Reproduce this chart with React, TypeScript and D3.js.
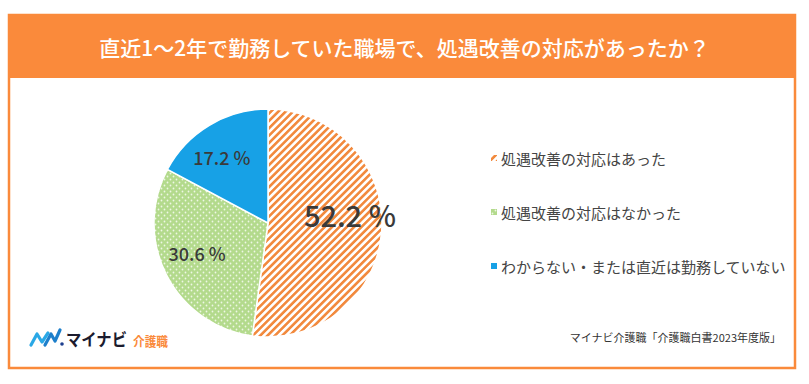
import * as d3 from 'd3';

const title = '直近1～2年で勤務していた職場で、処遇改善の対応があったか？';
const categories = ['処遇改善の対応はあった', '処遇改善の対応はなかった', 'わからない・または直近は勤務していない'];
const values = [52.2, 30.6, 17.2];
const fills = ['url(#stripes)', 'url(#dots)', '#17a1e6'];
const source = 'マイナビ介護職「介護職白書2023年度版」';

const W = 809, H = 384;
const ORANGE = '#fa8a3b';
const FONT = '"Noto Sans CJK JP", "Noto Sans", sans-serif';

export default function App() {
  const cx = 268, cy = 223, r = 114;

  const pie = d3.pie<number>().sort(null).value(d => d);
  const arcs = pie(values);
  const arc = d3.arc<d3.PieArcDatum<number>>().innerRadius(0).outerRadius(r);

  // label placement (radius factor, font size, nudges) per slice
  const labelStyle = [
    { k: 0.72, size: 29, dx: 0, dy: -15 },
    { k: 0.58, size: 18, dx: -12, dy: 0 },
    { k: 0.6, size: 18, dx: -11, dy: -7 },
  ];

  const legendY = d3.scalePoint<string>().domain(categories).range([158, 266]);

  return (
    <svg width={W} height={H} style={{ position: 'absolute', left: 0, top: 0, background: '#fff' }} fontFamily={FONT}>
      <defs>
        <pattern id="stripes" patternUnits="userSpaceOnUse" width={5.2} height={5.2} patternTransform="rotate(45)">
          <rect width={5.2} height={5.2} fill="#fff" />
          <rect width={2.6} height={5.2} fill="#f28a3e" />
        </pattern>
        <pattern id="dots" patternUnits="userSpaceOnUse" width={6} height={6}>
          <rect width={6} height={6} fill="#b3da8c" />
          <circle cx={1.5} cy={1.5} r={0.9} fill="#eef7e4" />
          <circle cx={4.5} cy={4.5} r={0.9} fill="#eef7e4" />
        </pattern>
      </defs>

      {/* frame */}
      <rect x={9} y={15} width={786} height={353} fill="#fff" stroke={ORANGE} strokeWidth={2.5} />
      <rect x={8} y={14} width={788} height={64} fill={ORANGE} />
      <text x={W / 2} y={47} textAnchor="middle" dominantBaseline="central" fill="#fff" fontSize={21} fontWeight={500}>
        {title}
      </text>

      {/* pie */}
      <g transform={`translate(${cx},${cy})`}>
        {arcs.map((a, i) => (
          <path key={i} d={arc(a) || ''} fill={fills[i]} stroke="#fff" strokeWidth={1.5} />
        ))}
        {arcs.map((a, i) => {
          const s = labelStyle[i];
          const [x, y] = d3.arc<d3.PieArcDatum<number>>().innerRadius(r * s.k).outerRadius(r * s.k).centroid(a);
          return (
            <text key={i} x={x + s.dx} y={y + s.dy} textAnchor="middle" dominantBaseline="central"
              fontSize={s.size} fontWeight={500} fill="#3a3a3a">
              {values[i].toFixed(1)} %
            </text>
          );
        })}
      </g>

      {/* legend */}
      {categories.map((c, i) => (
        <g key={c} transform={`translate(491,${legendY(c)})`}>
          <rect x={0} y={-3} width={6} height={6} fill={fills[i]} />
          <text x={10} y={0} dominantBaseline="central" fontSize={15} fill="#444">{c}</text>
        </g>
      ))}

      {/* logo */}
      <g>
        <path d="M31,345 L37,334 L42,342 L48,333" fill="none" stroke="#2aa8e6" strokeWidth={3.2} strokeLinecap="round" strokeLinejoin="round" />
        <path d="M45,345 L51,334 L55,341 L60,330" fill="none" stroke="#1d7fcb" strokeWidth={3.2} strokeLinecap="round" strokeLinejoin="round" />
        <circle cx={62} cy={344} r={1.8} fill="#1d3f8f" />
        <text x={66} y={346} fontSize={17} fontWeight={700} fill="#1b1b2e" textLength={61} lengthAdjust="spacingAndGlyphs">マイナビ</text>
        <text x={133} y={346} fontSize={13} fontWeight={700} fill={ORANGE} textLength={35} lengthAdjust="spacingAndGlyphs">介護職</text>
      </g>

      <text x={781} y={337} textAnchor="end" dominantBaseline="central" fontSize={11} fill="#333">{source}</text>
    </svg>
  );
}
